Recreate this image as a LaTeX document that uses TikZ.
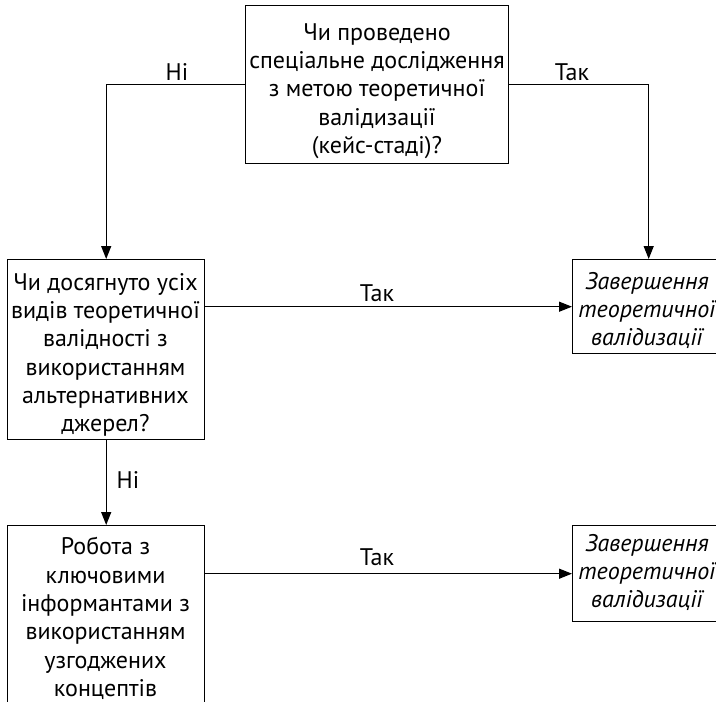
\documentclass[tikz,border=0pt]{standalone}
\usepackage{fontspec}
\setmainfont{PT Sans}
\usetikzlibrary{arrows.meta}
\begin{document}
\begin{tikzpicture}[x=1pt,y=-1pt,
  box/.style={draw, line width=1.4pt, inner sep=0pt, anchor=north west},
  txt/.style={inner sep=0pt, align=center, font=\fontsize{24}{28.3}\selectfont},
  itx/.style={txt, font=\fontsize{24}{28}\selectfont\itshape},
  conn/.style={line width=1.4pt, -{Triangle[length=13pt,width=10pt]}},
  lbl/.style={font=\fontsize{24}{28}\selectfont, inner sep=0pt}]
\useasboundingbox (0,0) rectangle (716,702);
\clip (0,0) rectangle (716,702);
\node[box, minimum width=263pt, minimum height=158pt] (q1) at (245,5) {};
\node[box, minimum width=197pt, minimum height=180pt] (q2) at (7,259) {};
\node[box, minimum width=152pt, minimum height=94pt] (e1) at (572,259) {};
\node[box, minimum width=197pt, minimum height=200pt] (w3) at (7,525) {};
\node[box, minimum width=152pt, minimum height=96pt] (e2) at (572,525) {};
\node[txt] (q1t) at (377,91)
  {Чи проведено\\спеціальне дослідження\\з метою теоретичної\\валідизації\\(кейс-стаді)?};
\node[txt] (q2t) at (105.5,355)
  {Чи досягнуто усіх\\видів теоретичної\\валідності з\\використанням\\альтернативних\\джерел?};
\node[itx] (e1t) at (647,310) {Завершення\\теоретичної\\валідизації};
\node[txt] (w3t) at (105.5,618.5)
  {Робота з\\ключовими\\інформантами з\\використанням\\узгоджених\\концептів};
\node[itx] (e2t) at (647,572) {Завершення\\теоретичної\\валідизації};
\draw[conn] (q1.west) -| (q2.north);
\draw[conn] (q1.east) -| (e1.north);
\draw[conn] (q2.east |- e1.west) -- (e1.west);
\draw[conn] (q2.south) -- (w3.north);
\draw[conn] (w3.east |- e2.west) -- (e2.west);
\node[lbl] (l1) at (177,72) {Ні};
\node[lbl] (l2) at (572,72) {Так};
\node[lbl] (l3) at (377,293) {Так};
\node[lbl] (l4) at (128,480) {Ні};
\node[lbl] (l5) at (377,557) {Так};
\end{tikzpicture}
\end{document}
